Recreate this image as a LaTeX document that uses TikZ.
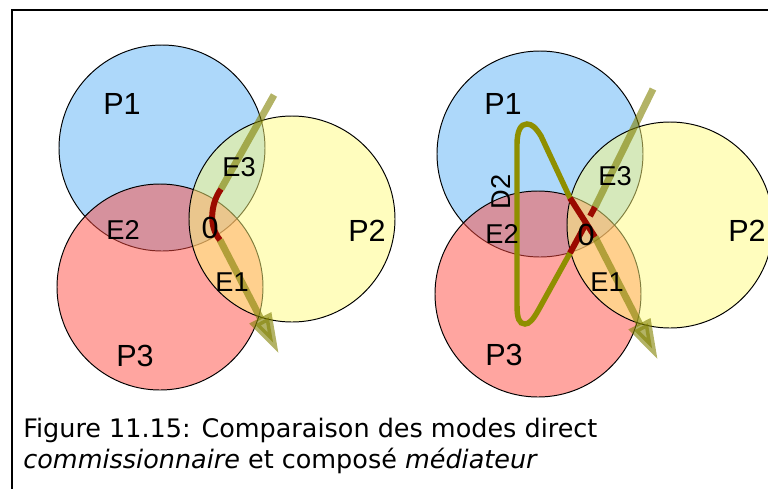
\documentclass[tikz,border=0pt]{standalone}
\usepackage{fontspec}
\setmainfont{Liberation Sans}
\newfontfamily\capfont{DejaVu Sans}
\usepackage{xcolor}
\usetikzlibrary{arrows.meta}

\definecolor{setblue}{RGB}{91,177,245}
\definecolor{setyel}{RGB}{255,251,125}
\definecolor{setred}{RGB}{255,75,65}
\definecolor{flowol}{RGB}{128,128,0}
\definecolor{loopol}{RGB}{143,143,0}
\definecolor{relayred}{RGB}{155,10,0}

\begin{document}
\begin{tikzpicture}[
  x=0.02cm, y=-0.02cm,
  every node/.style={inner sep=0pt},
  setc/.style={draw=black,line width=0.55pt,fill opacity=0.5},
  flow/.style={draw=flowol,line width=3.97pt,opacity=0.6},
  flowtip/.style={flow,-{Triangle[length=23.2pt,width=13pt]}},
  relay/.style={draw=relayred,line width=3.4pt},
  dloop/.style={draw=loopol,line width=3.1pt},
  plab/.style={font=\fontsize{17.4}{20}\selectfont},
  elab/.style={font=\fontsize{15.5}{18}\selectfont},
  zlab/.style={font=\fontsize{17.4}{20}\selectfont},
  captxt/.style={font=\capfont\fontsize{14.5}{17}\selectfont,anchor=base west}
]
\useasboundingbox (0,0) rectangle (768,488);

%% frame
\draw[line width=1.13pt] (12,520) -- (12,10) -- (800,10);

%% direct mode (left)
\fill[setc,fill=setblue] (162,148) circle[radius=103];
\fill[setc,fill=setred]  (160,287) circle[radius=103];
\fill[setc,fill=setyel]  (292,219) circle[radius=103];

\coordinate (la) at (274,95);
\coordinate (lb) at (221,189);
\coordinate (lc) at (220,240);
\coordinate (ld) at (279,354);
\draw[flow] (la) -- (lb);
\draw[flowtip] (lc) -- (ld);
\draw[relay] (lb) .. controls (211,203) and (208,226) .. (lc);

\node[plab] (p1l) at (122,104) {P1};
\node[plab] (p2l) at (367,231) {P2};
\node[plab] (p3l) at (135,356) {P3};
\node[elab] (e1l) at (232,282) {E1};
\node[elab] (e2l) at (123,230) {E2};
\node[elab] (e3l) at (239,167) {E3};
\node[zlab] (ol)  at (210,228) {0};

%% composed mode (right)
\fill[setc,fill=setblue] (540,154) circle[radius=103];
\fill[setc,fill=setred]  (538,294) circle[radius=103];
\fill[setc,fill=setyel]  (670,225) circle[radius=103];

\coordinate (ra) at (653,89);
\coordinate (rb) at (595,207);
\coordinate (rc) at (570,253);
\coordinate (rd) at (570,198);
\coordinate (re) at (595,237);
\coordinate (rf) at (658,360);
\draw[dloop] (rc) -- (539,309) .. controls (533,320) and (529,324) .. (525,324)
  .. controls (519,324) and (517,318) .. (517,305) -- (517,145)
  .. controls (517,130) and (521,124) .. (527,124)
  .. controls (532,124) and (536,128) .. (541,136) -- (rd);
\draw[flow] (ra) -- (rb);
\draw[flowtip] (re) -- (rf);
\draw[relay] (rd) -- (re);
\draw[relay,dash pattern=on 5.9pt off 5.1pt on 30pt off 0pt] (rb) -- (rc);

\node[plab] (p1r) at (503,104) {P1};
\node[plab] (p2r) at (747,231) {P2};
\node[plab] (p3r) at (504,355) {P3};
\node[elab] (e1r) at (607,282) {E1};
\node[elab] (e2r) at (502,234) {E2};
\node[elab] (e3r) at (615,176) {E3};
\node[elab,rotate=90] (d2r) at (501,192) {D2};
\node[zlab] (or)  at (586,235) {0};

%% caption
\node[captxt] (cap1) at (23,437) {Figure 11.15: Comparaison des modes direct};
\node[captxt] (cap2) at (23,468) {\textit{commissionnaire} et composé \textit{médiateur}};

\end{tikzpicture}
\end{document}
